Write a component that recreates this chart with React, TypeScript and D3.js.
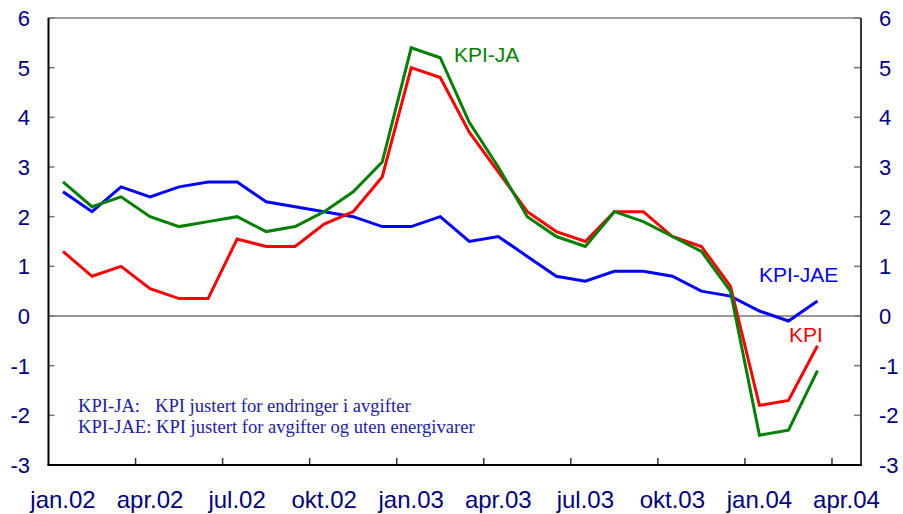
import React, { useEffect, useRef } from "react";
import * as d3 from "d3";

const months = [
  "jan.02","feb.02","mar.02","apr.02","mai.02","jun.02","jul.02","aug.02","sep.02","okt.02","nov.02","des.02",
  "jan.03","feb.03","mar.03","apr.03","mai.03","jun.03","jul.03","aug.03","sep.03","okt.03","nov.03","des.03",
  "jan.04","feb.04","mar.04",
];
const xTickLabels = ["jan.02","apr.02","jul.02","okt.02","jan.03","apr.03","jul.03","okt.03","jan.04","apr.04"];
const yTicks = [-3, -2, -1, 0, 1, 2, 3, 4, 5, 6];

const kpi = [1.3,0.8,1.0,0.55,0.35,0.35,1.55,1.4,1.4,1.85,2.1,2.8,5.0,4.8,3.7,2.9,2.1,1.7,1.5,2.1,2.1,1.6,1.4,0.6,-1.8,-1.7,-0.6];
const kpiJA = [2.7,2.2,2.4,2.0,1.8,1.9,2.0,1.7,1.8,2.1,2.5,3.1,5.4,5.2,3.9,3.0,2.0,1.6,1.4,2.1,1.9,1.6,1.3,0.5,-2.4,-2.3,-1.1];
const kpiJAE = [2.5,2.1,2.6,2.4,2.6,2.7,2.7,2.3,2.2,2.1,2.0,1.8,1.8,2.0,1.5,1.6,1.2,0.8,0.7,0.9,0.9,0.8,0.5,0.4,0.1,-0.1,0.3];

const W = 903, H = 514;
const L = 48.5, R = 861, T = 18, B = 465;

export default function App() {
  const ref = useRef<SVGSVGElement>(null);
  useEffect(() => {
    document.body.style.margin = "0";
    const svg = d3.select(ref.current);
    svg.selectAll("*").remove();
    const x = d3.scaleLinear().domain([0, 28]).range([L, R]);
    const y = d3.scaleLinear().domain([-3, 6]).range([B, T]);
    const navy = "#000080";

    svg.append("line").attr("x1", L).attr("x2", R).attr("y1", T).attr("y2", T)
      .attr("stroke", "#808080").attr("stroke-width", 1.5);
    svg.append("line").attr("x1", L).attr("x2", R).attr("y1", y(0)).attr("y2", y(0))
      .attr("stroke", "#333").attr("stroke-width", 1.2);

    yTicks.forEach((v) => {
      svg.append("line").attr("x1", L).attr("x2", L + 6).attr("y1", y(v)).attr("y2", y(v))
        .attr("stroke", "#777").attr("stroke-width", 1.5);
      svg.append("line").attr("x1", R - 7).attr("x2", R).attr("y1", y(v)).attr("y2", y(v))
        .attr("stroke", "#777").attr("stroke-width", 1.5);
      svg.append("text").attr("x", 30).attr("y", y(v) + 8).attr("text-anchor", "end")
        .attr("font-family", "Liberation Sans, Arial, sans-serif").attr("font-size", 22)
        .attr("fill", navy).text(String(v));
      svg.append("text").attr("x", 879).attr("y", y(v) + 8).attr("text-anchor", "start")
        .attr("font-family", "Liberation Sans, Arial, sans-serif").attr("font-size", 22)
        .attr("fill", navy).text(String(v));
    });

    xTickLabels.forEach((lab, i) => {
      const m = i * 3;
      if (m > 0) {
        svg.append("line").attr("x1", x(m)).attr("x2", x(m)).attr("y1", B).attr("y2", B - 7)
          .attr("stroke", "#333").attr("stroke-width", 1.5);
      }
      svg.append("text").attr("x", x(m + 0.5)).attr("y", 508).attr("text-anchor", "middle")
        .attr("font-family", "Liberation Sans, Arial, sans-serif").attr("font-size", 24)
        .attr("fill", navy).text(lab);
    });

    svg.append("line").attr("x1", L).attr("x2", L).attr("y1", T).attr("y2", B)
      .attr("stroke", "#000").attr("stroke-width", 2);
    svg.append("line").attr("x1", R).attr("x2", R).attr("y1", T).attr("y2", B)
      .attr("stroke", "#222").attr("stroke-width", 1.8);
    svg.append("line").attr("x1", L - 1).attr("x2", R + 1).attr("y1", B).attr("y2", B)
      .attr("stroke", "#000").attr("stroke-width", 2);

    const line = d3.line<number>().x((_, i) => x(i + 0.5)).y((d) => y(d));
    const series: [number[], string][] = [
      [kpiJAE, "#0000ff"],
      [kpi, "#ff0000"],
      [kpiJA, "#008000"],
    ];
    series.forEach(([data, color]) => {
      svg.append("path").datum(data).attr("d", line).attr("fill", "none")
        .attr("stroke", color).attr("stroke-width", 3).attr("stroke-linejoin", "miter");
    });

    const lab = (t: string, xx: number, yy: number, c: string) =>
      svg.append("text").attr("x", xx).attr("y", yy)
        .attr("font-family", "Liberation Sans, Arial, sans-serif").attr("font-size", 21)
        .attr("fill", c).text(t);
    lab("KPI-JA", 454, 62, "#008000");
    lab("KPI-JAE", 759, 282, "#0000ff");
    lab("KPI", 789, 342, "#ff0000");

    const note = (t: string, xx: number, yy: number) =>
      svg.append("text").attr("x", xx).attr("y", yy)
        .attr("font-family", "Liberation Serif, Times New Roman, serif").attr("font-size", 18.6)
        .attr("fill", "#1c1ca8").text(t);
    note("KPI-JA:", 78, 412);
    note("KPI justert for endringer i avgifter", 155, 412);
    note("KPI-JAE: KPI justert for avgifter og uten energivarer", 78, 433);

    svg.attr("data-months", months.length);
  }, []);
  return (
    <svg ref={ref} width={W} height={H} style={{ position: "absolute", left: 0, top: 0, background: "#fff" }} />
  );
}
